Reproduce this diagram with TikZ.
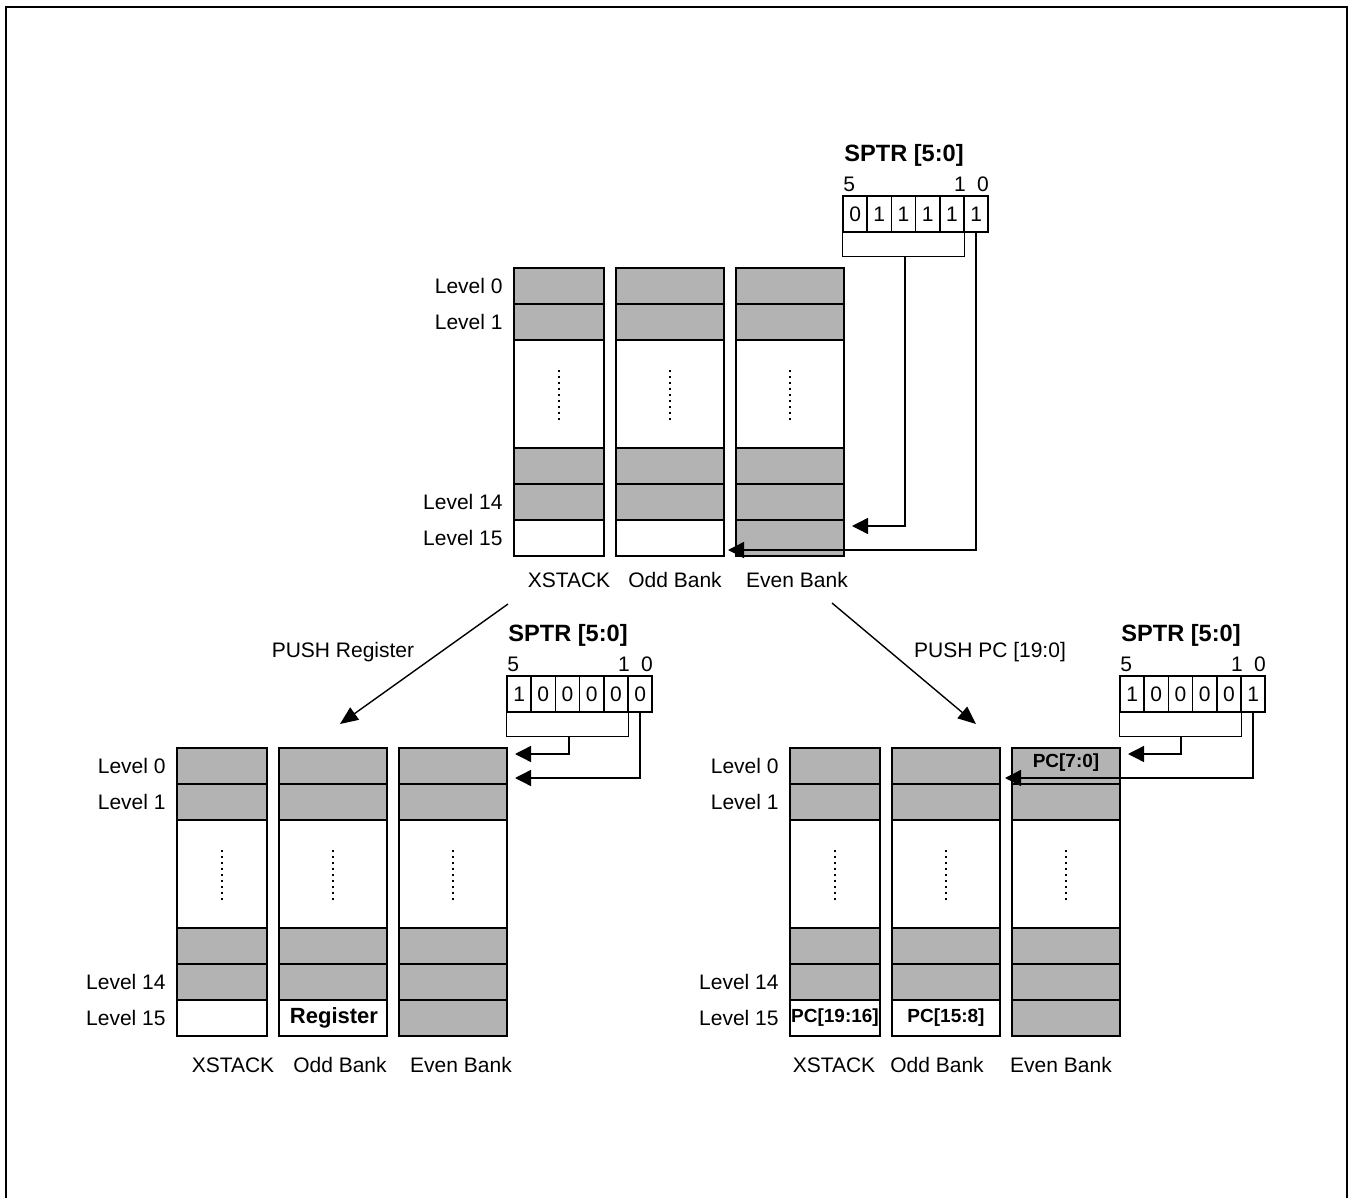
\documentclass[tikz,border=0pt]{standalone}
\usepackage{fontspec}
\setmainfont{Liberation Sans}
\usepackage{tikz}
\usetikzlibrary{arrows.meta,positioning}
\definecolor{bankGray}{HTML}{B3B3B3}

% one XSTACK / Odd Bank / Even Bank set: #1 left x, #2 top y
\newcommand{\bankgroup}[2]{%
  \foreach \bx/\bw/\cf in {0/90/white,102/108/white,222/108/bankGray}{%
    \foreach \ra/\rb/\rf in {0/36/bankGray,36/72/bankGray,72/180/white,180/216/bankGray,216/252/bankGray}
      \draw[box,fill=\rf] ({#1+\bx},{#2+\ra}) rectangle ({#1+\bx+\bw},{#2+\rb});
    \draw[box,fill=\cf] ({#1+\bx},{#2+252}) rectangle ({#1+\bx+\bw},{#2+288});
    \draw[dotline] ({#1+\bx+\bw/2},{#2+102}) -- ++(0,52);
  }
  \foreach \ly/\lt in {18/Level 0,54/Level 1,234/Level 14,270/Level 15}
    \node[lvl] at ({#1-11},{#2+\ly}) {\lt};
}

% SPTR register: #1 name, #2 left x, #3 top y, #4 bit/value pairs
\newcommand{\sptrreg}[4]{%
  \node[ttl] at ({#2+1},{#3-41}) {SPTR [5:0]};
  \node[bitno,anchor=west] at ({#2},{#3-12}) {5};
  \node[bitno] at ({#2+117},{#3-12}) {1};
  \node[bitno] at ({#2+140},{#3-12}) {0};
  \foreach \b/\v in {#4}
    \node[bitcell] (#1-\b) at ({#2+12.1+24.2*(5-\b)},{#3+18}) {\v};
  \draw[wire] (#1-5.south west) -- ++(0,24) -| (#1-1.south east);
}

\begin{document}
\begin{tikzpicture}[x=0.5pt,y=-0.5pt,
  box/.style={draw,line width=0.8pt},
  lvl/.style={anchor=east,inner sep=0pt,font=\fontsize{10.5}{12}\selectfont},
  lbl/.style={font=\fontsize{10.5}{12}\selectfont},
  ttl/.style={anchor=west,inner sep=0pt,font=\bfseries\fontsize{11.8}{14}\selectfont},
  bitcell/.style={draw,line width=0.75pt,minimum width=12.1pt,minimum height=18pt,
    inner sep=0pt,font=\fontsize{10.5}{12}\selectfont},
  bitno/.style={inner sep=0pt,font=\fontsize{10.5}{12}\selectfont},
  wire/.style={line width=0.7pt},
  ptr/.style={wire,-{Triangle[length=8pt,width=8pt]}},
  push/.style={line width=0.7pt,-{Triangle[length=9pt,width=7.5pt]}},
  dotline/.style={line width=1.1pt,dash pattern=on 1.1pt off 1.9pt},
  val/.style={font=\bfseries\fontsize{9.5}{11}\selectfont}]
  \useasboundingbox (0,0) rectangle (1355,1198);
  \draw[line width=1pt] (6,1198) -- (6,7) -- (1347,7) -- (1347,1198);

  % before the push
  \bankgroup{514}{268}
  \node[lbl] at (569,580) {XSTACK};
  \node[lbl] at (675,580) {Odd Bank};
  \node[lbl] at (797,580) {Even Bank};
  \sptrreg{sptrT}{843}{196}{5/0,4/1,3/1,2/1,1/1,0/1}
  \coordinate (stemT) at (905,256);
  \coordinate (tEvenL15) at (852,526);
  \coordinate (tOddL15) at (728,550);
  \draw[ptr] (stemT) |- (tEvenL15);
  \draw[ptr] (sptrT-0.south) |- (tOddL15);

  % the two pushes
  \coordinate (pushRegFrom) at (508,604);
  \coordinate (pushRegTo) at (340,724);
  \coordinate (pushPcFrom) at (832,603);
  \coordinate (pushPcTo) at (976,724);
  \draw[push] (pushRegFrom) -- (pushRegTo);
  \draw[push] (pushPcFrom) -- (pushPcTo);
  \node[lbl] at (343,652) {PUSH Register};
  \node[lbl] at (990,652) {PUSH PC [19:0]};

  % after PUSH Register
  \bankgroup{177}{748}
  \node[val,font=\bfseries\fontsize{11}{13}\selectfont] at (334,1018) {Register};
  \node[lbl] at (233,1065) {XSTACK};
  \node[lbl] at (340,1065) {Odd Bank};
  \node[lbl] at (461,1065) {Even Bank};
  \sptrreg{sptrL}{507}{676}{5/1,4/0,3/0,2/0,1/0,0/0}
  \coordinate (stemL) at (569,736);
  \coordinate (lEvenL0a) at (515,754);
  \coordinate (lEvenL0b) at (515,778);
  \draw[ptr] (stemL) |- (lEvenL0a);
  \draw[ptr] (sptrL-0.south) |- (lEvenL0b);

  % after PUSH PC
  \bankgroup{790}{748}
  \node[val] at (835,1018) {PC[19:16]};
  \node[val] at (946,1018) {PC[15:8]};
  \node[val] at (1066,763) {PC[7:0]};
  \node[lbl] at (834,1065) {XSTACK};
  \node[lbl] at (937,1065) {Odd Bank};
  \node[lbl] at (1061,1065) {Even Bank};
  \sptrreg{sptrR}{1120}{676}{5/1,4/0,3/0,2/0,1/0,0/1}
  \coordinate (stemR) at (1181,736);
  \coordinate (rEvenL0) at (1128,754);
  \coordinate (rOddL0) at (1005,778);
  \draw[ptr] (stemR) |- (rEvenL0);
  \draw[ptr] (sptrR-0.south) |- (rOddL0);
\end{tikzpicture}
\end{document}
